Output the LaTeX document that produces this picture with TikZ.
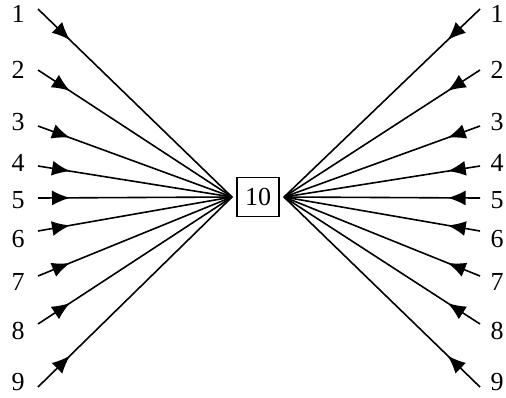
\documentclass[tikz,border=0pt]{standalone}
\usepackage{fontspec}
\setmainfont{Liberation Serif}[Ligatures=TeX]
\usetikzlibrary{arrows.meta, decorations.markings}

\begin{document}
\begin{tikzpicture}[
    x=0.5pt, y=-0.5pt,
    num/.style={font=\fontsize{13}{15}\selectfont, inner sep=0pt},
    hub/.style={rectangle, draw, line width=0.8pt, minimum width=21pt,
                minimum height=19.5pt, inner sep=0pt, outer sep=2.5pt,
                font=\fontsize{13}{15}\selectfont},
    feed/.style={line width=0.8pt, postaction={decorate},
                 decoration={markings, mark=at position 0.165 with
                   {\arrow{Latex[length=9pt, width=7.5pt]}}}}
]
    \useasboundingbox (0,0) rectangle (506,397);
    \node[hub] (hub) at (258,197) {10};

    % inputs on both sides
    \foreach \i/\ys/\yl in {1/9/14, 2/70/70, 3/126/122, 4/166/163, 5/198/200,
                            6/231/239, 7/276/282, 8/324/331, 9/387/382} {
        \coordinate (ls\i) at (38,\ys);
        \coordinate (rs\i) at (480,\ys);
        \node[num] (lft\i) at (18,\yl) {\i};
        \node[num] (rgt\i) at (497,\yl) {\i};
        \draw[feed] (ls\i) -- (hub.west);
        \draw[feed] (rs\i) -- (hub.east);
    }
\end{tikzpicture}
\end{document}
